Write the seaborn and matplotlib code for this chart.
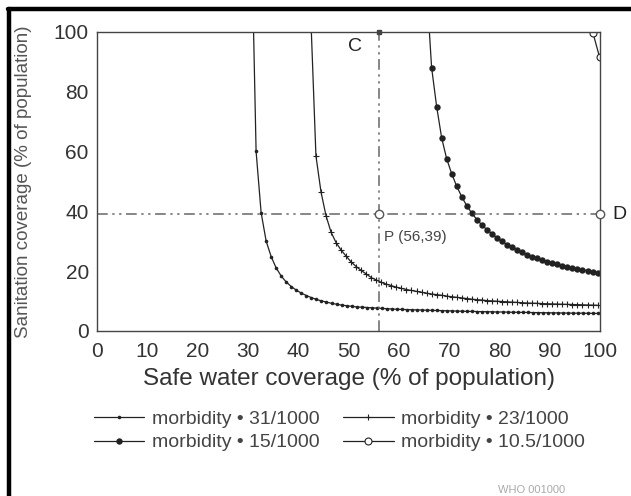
import matplotlib
matplotlib.use("Agg")
import matplotlib.pyplot as plt
import seaborn as sns
from matplotlib.lines import Line2D

sns.set_theme(style="white")
plt.rcParams['font.family'] = ['Liberation Sans', 'DejaVu Sans']

# safe water coverage (x) and sanitation coverage (y)
w31 = [30.6, 31.6, 32.6, 33.6, 34.6, 35.6, 36.6, 37.6, 38.6, 39.6,
       40.6, 41.6, 42.6, 43.6, 44.6, 45.6, 46.6, 47.6, 48.6, 49.6,
       50.6, 51.6, 52.6, 53.6, 54.6, 55.6, 56.6, 57.6, 58.6, 59.6,
       60.6, 61.6, 62.6, 63.6, 64.6, 65.6, 66.6, 67.6, 68.6, 69.6,
       70.6, 71.6, 72.6, 73.6, 74.6, 75.6, 76.6, 77.6, 78.6, 79.6,
       80.6, 81.6, 82.6, 83.6, 84.6, 85.6, 86.6, 87.6, 88.6, 89.6,
       90.6, 91.6, 92.6, 93.6, 94.6, 95.6, 96.6, 97.6, 98.6, 99.6]
s31 = [140, 60, 39.5, 30, 24.8, 21, 18.3, 16.3, 14.8, 13.6,
       12.6, 11.8, 11.1, 10.5, 10.0, 9.6, 9.2, 8.9, 8.6, 8.4,
       8.2, 8.0, 7.9, 7.8, 7.7, 7.6, 7.5, 7.4, 7.3, 7.2,
       7.15, 7.1, 7.05, 7.0, 6.95, 6.9, 6.85, 6.8, 6.75, 6.7,
       6.65, 6.6, 6.55, 6.5, 6.5, 6.45, 6.4, 6.4, 6.35, 6.3,
       6.3, 6.25, 6.2, 6.2, 6.15, 6.15, 6.1, 6.1, 6.05, 6.05,
       6.0, 6.0, 5.95, 5.95, 5.9, 5.9, 5.9, 5.85, 5.85, 5.8]

w23 = [42.5, 43.5, 44.5, 45.5, 46.5, 47.5, 48.5, 49.5, 50.5, 51.5,
       52.5, 53.5, 54.5, 55.5, 56.5, 57.5, 58.5, 59.5, 60.5, 61.5,
       62.5, 63.5, 64.5, 65.5, 66.5, 67.5, 68.5, 69.5, 70.5, 71.5,
       72.5, 73.5, 74.5, 75.5, 76.5, 77.5, 78.5, 79.5, 80.5, 81.5,
       82.5, 83.5, 84.5, 85.5, 86.5, 87.5, 88.5, 89.5, 90.5, 91.5,
       92.5, 93.5, 94.5, 95.5, 96.5, 97.5, 98.5, 99.5]
s23 = [104, 58.5, 46.5, 38.5, 33, 29.5, 27, 25, 23, 21.5,
       20.2, 19, 17.8, 17, 16.2, 15.6, 15.1, 14.6, 14.2, 13.8,
       13.5, 13.2, 12.9, 12.6, 12.3, 12.1, 11.9, 11.6, 11.4, 11.2,
       11.0, 10.8, 10.6, 10.4, 10.3, 10.1, 10.0, 9.9, 9.8, 9.7,
       9.6, 9.5, 9.4, 9.3, 9.25, 9.2, 9.1, 9.05, 9.0, 8.95,
       8.9, 8.85, 8.8, 8.75, 8.7, 8.65, 8.6, 8.55]

w15 = [65.5, 66.5, 67.5, 68.5, 69.5, 70.5, 71.5, 72.5, 73.5, 74.5,
       75.5, 76.5, 77.5, 78.5, 79.5, 80.5, 81.5, 82.5, 83.5, 84.5,
       85.5, 86.5, 87.5, 88.5, 89.5, 90.5, 91.5, 92.5, 93.5, 94.5,
       95.5, 96.5, 97.5, 98.5, 99.5]
s15 = [115, 88, 75, 64.5, 57.5, 52.5, 48.3, 44.8, 41.8, 39.3,
       37.2, 35.4, 33.8, 32.4, 31.1, 29.9, 28.8, 27.9, 27.0, 26.2,
       25.5, 24.8, 24.2, 23.6, 23.1, 22.6, 22.2, 21.8, 21.4, 21.0,
       20.7, 20.4, 20.1, 19.8, 19.5]

w105 = [98.6, 99.9]
s105 = [99.5, 91.5]

labels = ["morbidity \u2022 31/1000", "morbidity \u2022 23/1000",
          "morbidity \u2022 15/1000", "morbidity \u2022 10.5/1000"]

point_p = (56, 39)
point_c = (56, 100)
point_d = (100, 39)

ink = "#222222"
grey = "#444444"

fig = plt.figure(figsize=(6.31, 4.96), dpi=100)
ax = fig.add_axes([0.154, 0.333, 0.797, 0.603])

sns.lineplot(x=w31, y=s31, ax=ax, color=ink, lw=0.9, marker="o", markersize=2.6,
             markeredgecolor=ink, markeredgewidth=0, label=labels[0])
sns.lineplot(x=w23, y=s23, ax=ax, color=ink, lw=0.9, marker="+", markersize=4.5,
             markeredgecolor=ink, markeredgewidth=0.8, label=labels[1])
sns.lineplot(x=w15, y=s15, ax=ax, color=ink, lw=0.9, marker="o", markersize=4.6,
             markeredgecolor=ink, markeredgewidth=0, label=labels[2])
sns.lineplot(x=w105, y=s105, ax=ax, color=ink, lw=0.9, marker="o", markersize=5,
             markerfacecolor="white", markeredgecolor=ink, markeredgewidth=0.8,
             label=labels[3])

# construction lines through P
dd = (7, 3, 1.5, 3, 1.5, 3)
ax.plot([0, 100], [point_p[1], point_p[1]], color="#666666", lw=1.1, dashes=dd)
ax.plot([point_p[0], point_p[0]], [0, 100], color="#666666", lw=1.1, dashes=dd)
for px, py in (point_p, point_d):
    ax.plot(px, py, marker="o", ms=6, mfc="white", mec="#555555", mew=1.0,
            clip_on=False, zorder=5)
ax.plot(point_c[0], point_c[1], marker="s", ms=3.5, color="#444444",
        clip_on=False, zorder=5)

ax.text(51.2, 95, "C", fontsize=14, color=ink, ha="center", va="center")
ax.text(102.5, 39, "D", fontsize=14, color=ink, ha="left", va="center")
ax.text(57, 31.5, "P (56,39)", fontsize=11, color=grey, ha="left", va="center")

ax.set_xlim(0, 100)
ax.set_ylim(0, 100)
ax.set_xticks(range(0, 101, 10))
ax.set_yticks(range(0, 101, 20))
ax.tick_params(axis="x", direction="in", length=6, width=0.8, colors="#555555",
               labelcolor="#333333", labelsize=15, pad=8)
ax.tick_params(axis="y", direction="in", length=4, width=0.8, colors="#555555",
               labelcolor="#333333", labelsize=15, pad=6)
for sp in ax.spines.values():
    sp.set_color("#444444")
    sp.set_linewidth(1.0)

ax.set_xlabel("Safe water coverage (% of population)", fontsize=17.5, color="#333333",
              labelpad=5)
ax.set_ylabel("Sanitation coverage (% of population)", fontsize=13.5, color="#555555")
ax.yaxis.set_label_coords(-0.13, 0.5)

handles, labs = ax.get_legend_handles_labels()
ax.get_legend().remove()
order = [0, 2, 1, 3]
fig.legend([handles[i] for i in order], [labs[i] for i in order], ncol=2,
           loc="upper center", bbox_to_anchor=(0.538, 0.208), frameon=False,
           fontsize=14, labelcolor="#444444", handlelength=2.6, handletextpad=0.4,
           columnspacing=1.2, labelspacing=0.3)

# scanned page frame
fig.add_artist(Line2D([0.014, 0.014], [0, 0.981], color="black", lw=3.2))
fig.add_artist(Line2D([0.012, 1.0], [0.981, 0.981], color="black", lw=3.2))
fig.text(0.79, 0.012, "WHO 001000", fontsize=8, color="#aaaaaa", va="center")

fig.savefig("out.png", dpi=100)
